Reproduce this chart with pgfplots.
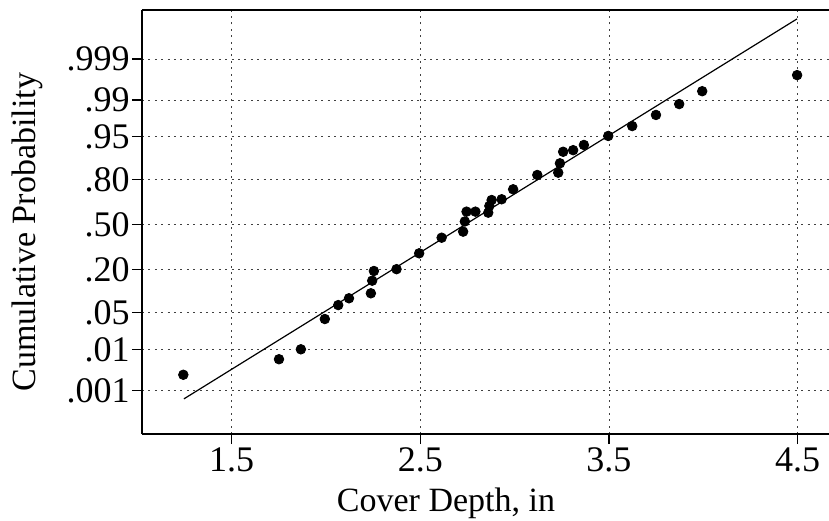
\documentclass[border=0pt]{standalone}
\usepackage{fontspec}
\setmainfont{Liberation Serif}
\usepackage{pgfplots}
\pgfplotsset{compat=1.18}
\begin{document}
\fontsize{17}{20}\selectfont
\begin{tikzpicture}
\begin{axis}[
  scale only axis,
  width=343.5pt, height=212pt,
  xmin=1.025, xmax=4.666,
  ymin=-3.905, ymax=4.005,
  axis x line=box, axis y line=left,
  axis line style={-, line width=1pt, black},
  xtick={1.5,2.5,3.5,4.5},
  xticklabels={1.5,2.5,3.5,4.5},
  ytick={-3.090,-2.326,-1.645,-0.842,0,0.842,1.645,2.326,3.090},
  yticklabels={.001,.01,.05,.20,.50,.80,.95,.99,.999},
  tick pos=left,
  tick align=outside,
  major tick length=5pt,
  tick style={black, line width=0.6pt},
  /pgf/number format/assume math mode=true,
  ticklabel style={font=\fontsize{18}{21}\selectfont},
  yticklabel style={inner xsep=1pt},
  xticklabel style={inner ysep=1.5pt},
  grid=major,
  grid style={black!75, line width=0.4pt, dash pattern=on 1pt off 2.2pt},
  xlabel={Cover Depth, in},
  ylabel={Cumulative Probability},
  xlabel style={at={(axis description cs:0.4425,-0.163)}, anchor=center, font=\fontsize{17}{20}\selectfont},
  ylabel style={at={(axis description cs:-0.1674,0.476)}, anchor=center, font=\fontsize{17}{20}\selectfont},
  clip=false,
]
\addplot[black, line width=0.6pt] coordinates {(1.247,-3.25) (4.497,3.84)};
\addplot[only marks, mark=*, mark size=2.4pt, black] coordinates {
(1.244,-2.80)
(1.751,-2.51)
(1.867,-2.325)
(1.994,-1.76)
(2.065,-1.50)
(2.122,-1.373)
(2.238,-1.28)
(2.245,-1.045)
(2.254,-0.864)
(2.374,-0.83)
(2.494,-0.534)
(2.613,-0.243)
(2.727,-0.13)
(2.736,0.06)
(2.745,0.243)
(2.792,0.243)
(2.860,0.224)
(2.866,0.35)
(2.878,0.46)
(2.931,0.474)
(2.992,0.66)
(3.120,0.927)
(3.231,0.97)
(3.240,1.145)
(3.257,1.36)
(3.310,1.39)
(3.367,1.487)
(3.496,1.655)
(3.623,1.84)
(3.749,2.047)
(3.872,2.25)
(3.994,2.49)
(4.497,2.79)
};
\end{axis}
\pgfresetboundingbox
\path (current axis.south west) ++(-71pt,-43pt) coordinate (bl);
\path (current axis.north east) ++(0pt,5pt) coordinate (tr);
\path (bl) rectangle (tr);
\end{tikzpicture}
\end{document}
